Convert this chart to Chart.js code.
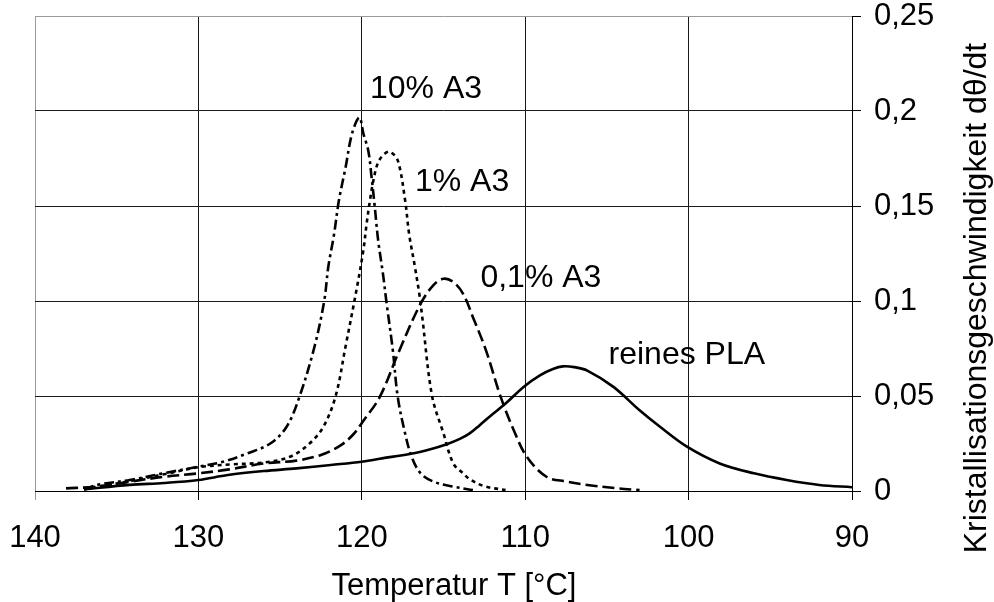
<!DOCTYPE html>
<html>
<head>
<meta charset="utf-8">
<script src="https://cdn.jsdelivr.net/npm/chart.js@4/dist/chart.umd.min.js"></script>
<style>
  html, body { margin: 0; padding: 0; background: #fff; }
  #wrap { width: 994px; height: 602px; }
</style>
</head>
<body>
<div id="wrap"><canvas id="c" width="994" height="602"></canvas></div>
<script>
// Crystallisation rate dθ/dt versus temperature (cooling, so the axis runs 140 → 90 °C)

// reines PLA
const plaT = [137.0, 134.2, 132.1, 130.0, 128.2, 126.0, 124.0, 121.9, 120.0, 118.9, 117.0, 115.8, 114.8, 114.0, 113.4, 112.8, 112.2, 111.2, 110.1, 109.1, 108.3, 107.7, 107.0, 106.2, 104.6, 103.0, 101.75, 100.1, 98.1, 96.0, 94.0, 92.0, 90.0];
const plaV = [0.0009, 0.0032, 0.0042, 0.0058, 0.0084, 0.0105, 0.0119, 0.0137, 0.0154, 0.0170, 0.0196, 0.0220, 0.0246, 0.0274, 0.0303, 0.0345, 0.0390, 0.0460, 0.0548, 0.0609, 0.0642, 0.0656, 0.0652, 0.0634, 0.0548, 0.0425, 0.0338, 0.0233, 0.0145, 0.0093, 0.0058, 0.0032, 0.0020];

// 0,1% A3
const a01T = [138.1, 136.2, 134.2, 132.1, 130.0, 128.1, 126.0, 124.0, 122.5, 121.3, 120.5, 119.9, 118.9, 117.7, 116.4, 115.6, 115.0, 114.4, 113.8, 113.2, 112.4, 111.5, 110.7, 109.9, 108.7, 107.5, 106.2, 104.5, 103.0];
const a01V = [0.0014, 0.0023, 0.0049, 0.0075, 0.0093, 0.0114, 0.0145, 0.0160, 0.0190, 0.0240, 0.0300, 0.0370, 0.0495, 0.0740, 0.0986, 0.1085, 0.1117, 0.1100, 0.1038, 0.0915, 0.0740, 0.0495, 0.0320, 0.0180, 0.0075, 0.0050, 0.0032, 0.0015, 0.0005];

// 1% A3
const a1T = [137.0, 136.0, 134.0, 132.0, 130.0, 128.0, 126.0, 124.4, 123.2, 122.35, 121.6, 121.0, 120.3, 119.9, 119.7, 119.5, 119.3, 119.0, 118.6, 118.27, 117.8, 117.35, 117.1, 116.75, 116.45, 116.3, 115.7, 115.0, 114.4, 113.8, 113.4, 112.5, 111.2];
const a1V = [0.0008, 0.0025, 0.0055, 0.0090, 0.0125, 0.0140, 0.0150, 0.0180, 0.0250, 0.0338, 0.0500, 0.0758, 0.1070, 0.1270, 0.1410, 0.1530, 0.1630, 0.1730, 0.1775, 0.1785, 0.1740, 0.1530, 0.1350, 0.1180, 0.1020, 0.0915, 0.0500, 0.0303, 0.0145, 0.0093, 0.0062, 0.0025, 0.0005];

// 10% A3
const a10T = [137.0, 136.2, 134.2, 132.15, 130.0, 128.5, 127.0, 125.6, 124.6, 123.8, 122.9, 122.3, 122.05, 121.7, 121.4, 121.0, 120.6, 120.15, 119.9, 119.6, 119.4, 119.2, 119.0, 118.7, 118.5, 118.1, 117.8, 117.35, 116.95, 116.4, 115.6, 114.4, 113.2];
const a10V = [0.0008, 0.0032, 0.0058, 0.0093, 0.0128, 0.0154, 0.0198, 0.0250, 0.0338, 0.0500, 0.0758, 0.1000, 0.1180, 0.1350, 0.1530, 0.1700, 0.1880, 0.1966, 0.1880, 0.1790, 0.1650, 0.1490, 0.1320, 0.1140, 0.1000, 0.0740, 0.0495, 0.0303, 0.0180, 0.0093, 0.0049, 0.0023, 0.0005];

// Axis ticks and their printed labels
const xTicks = [140, 130, 120, 110, 100, 90];
const xTickLabels = ['140', '130', '120', '110', '100', '90'];
const yTicks = [0, 0.05, 0.1, 0.15, 0.2, 0.25];
const yTickLabels = ['0', '0,05', '0,1', '0,15', '0,2', '0,25'];

const xTitle = 'Temperatur T [°C]';
const yTitle = 'Kristallisationsgeschwindigkeit dθ/dt';

// Curve names written next to their peaks (anchored in data units)
const curveLabels = [
  { text: '10% A3', t: 119.5, v: 0.207 },
  { text: '1% A3', t: 116.75, v: 0.158 },
  { text: '0,1% A3', t: 112.74, v: 0.1073 },
  { text: 'reines PLA', t: 104.9, v: 0.0671 }
];

const FONT = '"Liberation Sans", Arial, Helvetica, sans-serif';
const pts = (ts, vs) => ts.map((t, i) => ({ x: t, y: vs[i] }));
const labelFor = (ticks, labels, v) => {
  const i = ticks.findIndex(t => Math.abs(t - v) < 1e-9);
  return i < 0 ? '' : labels[i];
};

const lineBase = {
  borderColor: '#000',
  borderWidth: 2.6,
  pointRadius: 0,
  pointHoverRadius: 0,
  fill: false,
  tension: 0.35,
  borderCapStyle: 'butt'
};

const textPlugin = {
  id: 'curveText',
  afterDraw(chart) {
    const { ctx, scales: { x, y } } = chart;
    ctx.save();
    ctx.fillStyle = '#000';
    ctx.font = '32px ' + FONT;
    ctx.textAlign = 'left';
    ctx.textBaseline = 'alphabetic';
    curveLabels.forEach(l => {
      ctx.fillText(l.text, x.getPixelForValue(l.t), y.getPixelForValue(l.v));
    });
    ctx.font = '31px ' + FONT;
    ctx.textAlign = 'center';
    ctx.fillText(xTitle, 454, 595);
    ctx.font = '32px ' + FONT;
    ctx.translate(986, 298);
    ctx.rotate(-Math.PI / 2);
    ctx.fillText(yTitle, 0, 0);
    ctx.restore();
  }
};

new Chart(document.getElementById('c'), {
  type: 'line',
  data: {
    datasets: [
      Object.assign({ label: 'reines PLA', data: pts(plaT, plaV) }, lineBase),
      Object.assign({ label: '0,1% A3', data: pts(a01T, a01V), borderDash: [12, 5] }, lineBase),
      Object.assign({ label: '1% A3', data: pts(a1T, a1V), borderDash: [4, 4] }, lineBase),
      Object.assign({ label: '10% A3', data: pts(a10T, a10V), borderDash: [10, 4, 3, 4] }, lineBase)
    ]
  },
  options: {
    responsive: false,
    animation: false,
    events: [],
    layout: { padding: { left: 35, top: 16, right: 0, bottom: 0 } },
    plugins: { legend: { display: false }, tooltip: { enabled: false } },
    scales: {
      x: {
        type: 'linear',
        position: 'bottom',
        reverse: true,
        min: 90,
        max: 140,
        afterFit: s => { s.height = 111; s.paddingLeft = 0; s.paddingRight = 0; },
        ticks: {
          stepSize: 10,
          autoSkip: false,
          maxRotation: 0,
          color: '#000',
          padding: 20,
          font: { family: FONT, size: 31 },
          callback: v => labelFor(xTicks, xTickLabels, v)
        },
        grid: {
          color: c => (c.tick && c.tick.value === 140 ? '#9a9a9a' : '#1a1a1a'),
          tickColor: c => (c.tick && c.tick.value === 140 ? '#9a9a9a' : '#000'),
          lineWidth: 1,
          tickLength: 9
        },
        border: { display: true, color: '#000', width: 1 }
      },
      y: {
        type: 'linear',
        position: 'right',
        min: 0,
        max: 0.25,
        afterFit: s => { s.width = 142; s.paddingTop = 0; s.paddingBottom = 0; },
        ticks: {
          stepSize: 0.05,
          color: '#000',
          padding: 13,
          font: { family: FONT, size: 31 },
          callback: v => labelFor(yTicks, yTickLabels, v)
        },
        grid: {
          color: c => (c.tick && Math.abs(c.tick.value - 0.25) < 1e-9 ? '#9a9a9a' : '#1a1a1a'),
          tickColor: '#000',
          lineWidth: 1,
          tickLength: 9
        },
        border: { display: true, color: '#000', width: 1 }
      }
    }
  },
  plugins: [textPlugin]
});
</script>
</body>
</html>
